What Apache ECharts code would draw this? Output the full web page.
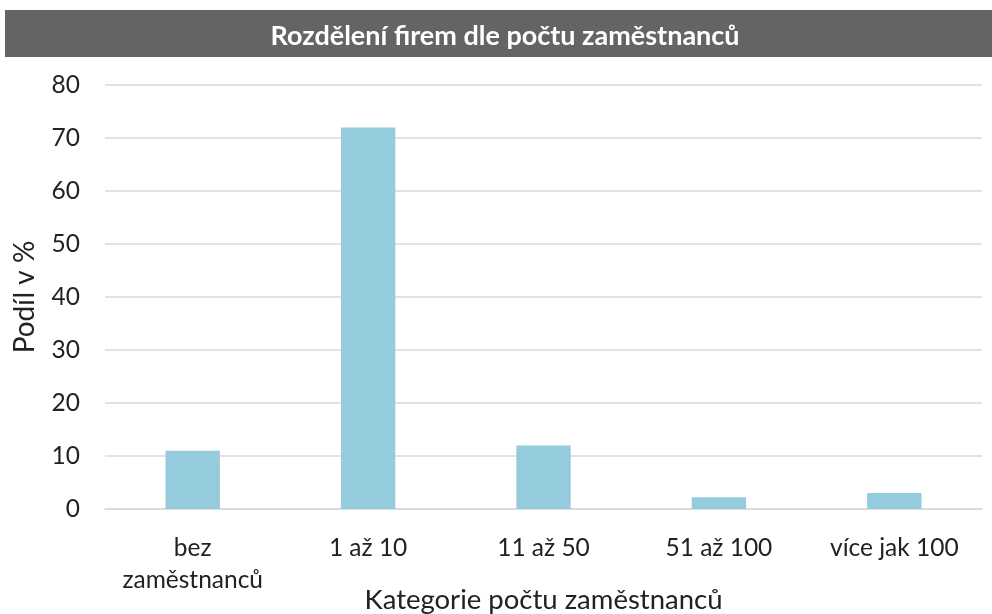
<!DOCTYPE html>
<html>
<head>
<meta charset="utf-8">
<script src="https://cdn.jsdelivr.net/npm/echarts@6/dist/echarts.min.js"></script>
<style>
  html, body { margin: 0; padding: 0; background: #fff; }
  #chartColumn { width: 992px; height: 614px; }
</style>
</head>
<body>
<div id="chartColumn"></div>
<script>
var categories = ['bez\nzaměstnanců', '1 až 10', '11 až 50', '51 až 100', 'více jak 100']
var shares = [11, 72, 12, 2.2, 3]
var titleText = 'Rozdělení firem dle počtu zaměstnanců'
var yName = 'Podíl v %'
var xName = 'Kategorie počtu zaměstnanců'

var font = 'Lato, "Open Sans", sans-serif'

var chartColumn = echarts.init(document.getElementById('chartColumn'))
chartColumn.setOption({
  animation: false,
  graphic: [{
    type: 'rect',
    shape: { x: 5, y: 10, width: 987, height: 47 },
    style: { fill: '#646466' },
    z: 0
  }],
  title: {
    text: titleText,
    left: 500,
    top: 18,
    textAlign: 'center',
    textStyle: { color: '#fff', fontSize: 27, fontWeight: 'bold', fontFamily: font }
  },
  grid: { left: 105, right: 10, top: 85, bottom: 105, outerBoundsMode: 'none', containLabel: false },
  xAxis: {
    type: 'category',
    data: categories,
    name: xName,
    nameLocation: 'middle',
    nameGap: 77,
    nameMoveOverlap: false,
    nameTextStyle: { fontSize: 27.5, color: '#222', fontFamily: font },
    axisLine: { lineStyle: { color: '#d9d9d9', width: 1.5 } },
    axisTick: { show: false },
    axisLabel: { fontSize: 24.5, color: '#222', margin: 23, lineHeight: 32, fontFamily: font, interval: 0 }
  },
  yAxis: {
    type: 'value',
    min: 0,
    max: 80,
    interval: 10,
    name: yName,
    nameLocation: 'middle',
    nameGap: 66,
    nameMoveOverlap: false,
    nameTextStyle: { fontSize: 28, color: '#222', fontFamily: font },
    axisLabel: { fontSize: 24.5, color: '#222', margin: 25, fontFamily: font },
    splitLine: { lineStyle: { color: '#d9d9d9', width: 1.5 } }
  },
  series: [{
    type: 'bar',
    data: shares,
    barWidth: '31%',
    itemStyle: { color: '#95ccdd' }
  }]
})
</script>
</body>
</html>
